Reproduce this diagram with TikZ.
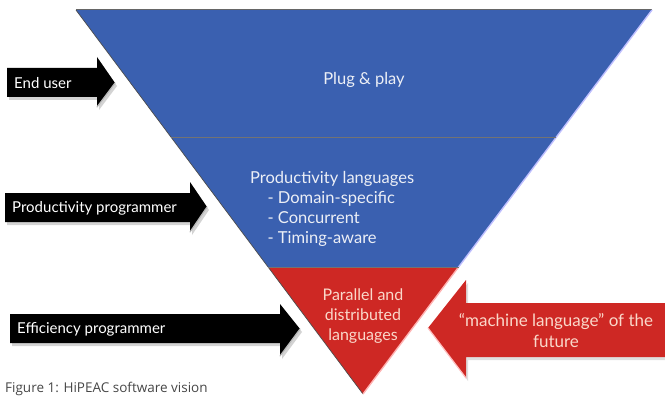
\documentclass[tikz,border=0pt]{standalone}
\usepackage{fontspec}
\setmainfont{Lato}
\newfontfamily\capfont{Open Sans}
\usetikzlibrary{shadows,calc}
\definecolor{tblue}{RGB}{58,96,176}
\definecolor{tred}{RGB}{206,40,36}
\definecolor{tpink}{RGB}{250,216,202}
\definecolor{ttext}{RGB}{236,239,246}
\definecolor{capgray}{RGB}{70,70,70}
\begin{document}
\begin{tikzpicture}[x=1pt,y=-1pt,
  blkarrow/.style={fill=black, drop shadow={opacity=0.35,shadow xshift=2pt,shadow yshift=-3pt}},
  redarrow/.style={fill=tred, drop shadow={opacity=0.25,shadow xshift=2pt,shadow yshift=-3pt}},
  bevel/.style={draw=gray!55, line width=1.2pt, line cap=round},
  redbevel/.style={draw=red!25!white, line width=1.2pt, line cap=round},
  lbl/.style={text=white, font=\fontsize{15}{17}\selectfont, inner sep=0pt, anchor=west},
  intext/.style={text=ttext, font=\fontsize{16.5}{20}\selectfont, inner sep=0pt},
  redtext/.style={text=tpink, font=\fontsize{16}{20}\selectfont, inner sep=0pt, align=center},
  edgeL/.style={draw=black!70, line width=0.7pt},
  edgeR/.style={draw=blue!25!white, line width=1.4pt},
  sep/.style={draw=black!55, line width=0.9pt}]
\useasboundingbox (0,0) rectangle (665,396);
% triangle corners
\coordinate (TL) at (76,10);
\coordinate (TR) at (652,10);
\coordinate (A) at (363,394);
\coordinate (L1) at ($(TL)!0.3307!(A)$);
\coordinate (R1) at ($(TR)!0.3307!(A)$);
\coordinate (L2) at ($(TL)!0.6693!(A)$);
\coordinate (R2) at ($(TR)!0.6693!(A)$);
% fills
\fill[tblue] (TL) -- (TR) -- (R1) -- (L1) -- cycle;
\fill[tblue] (L1) -- (R1) -- (R2) -- (L2) -- cycle;
\fill[tred] (L2) -- (R2) -- (A) -- cycle;
% edges
\draw[draw=black!60, line width=1pt] (TL) -- (TR);
\draw[edgeL] (TL) -- (A);
\draw[edgeR] (TR) -- (R2);
\draw[draw=red!30!white, line width=1.4pt] (R2) -- (A);
\draw[sep] (L1) -- (R1);
\draw[sep] (L2) -- (R2);
% texts in triangle
\node[intext] (plug) at (364,80) {Plug \& play};
\node[intext, align=left, anchor=north west] (prod) at (250,171)
  {Productivity languages\\
   \hspace*{1.05em}- Domain-specific\\
   \hspace*{1.05em}- Concurrent\\
   \hspace*{1.05em}- Timing-aware};
\node[redtext] (par) at (363,316) {Parallel and\\distributed\\languages};
% black arrows
\path[blkarrow] (7,68) -- (97,68) -- (97,57) -- (115,83) -- (97,107) -- (97,97) -- (7,97) -- cycle;
\draw[bevel] (115,83) -- (97,107);
\node[lbl] (eu) at (14,83) {End user};
\path[blkarrow] (5,193) -- (190,193) -- (190,182) -- (207,207) -- (190,232) -- (190,222) -- (5,222) -- cycle;
\draw[bevel] (207,207) -- (190,232);
\node[lbl] (pp) at (12,208) {Productivity programmer};
\path[blkarrow] (10,314) -- (280,314) -- (280,304) -- (300,329) -- (280,356) -- (280,343) -- (10,343) -- cycle;
\draw[bevel] (300,329) -- (280,356);
\node[lbl] (ep) at (17,329) {Efficiency programmer};
% red arrow
\path[redarrow] (668,303) -- (466,303) -- (466,280) -- (428,328) -- (466,378) -- (466,357) -- (668,357) -- cycle;
\draw[redbevel] (428,328) -- (466,378);
\node[redtext, font=\fontsize{17}{21}\selectfont] (ml) at (556,331) {“machine language” of the\\future};
% caption
\node[anchor=base west, inner sep=0pt, text=capgray, font=\capfont\fontsize{13.5}{16}\selectfont] (cap) at (5,392) {Figure 1: HiPEAC software vision};
\end{tikzpicture}
\end{document}
